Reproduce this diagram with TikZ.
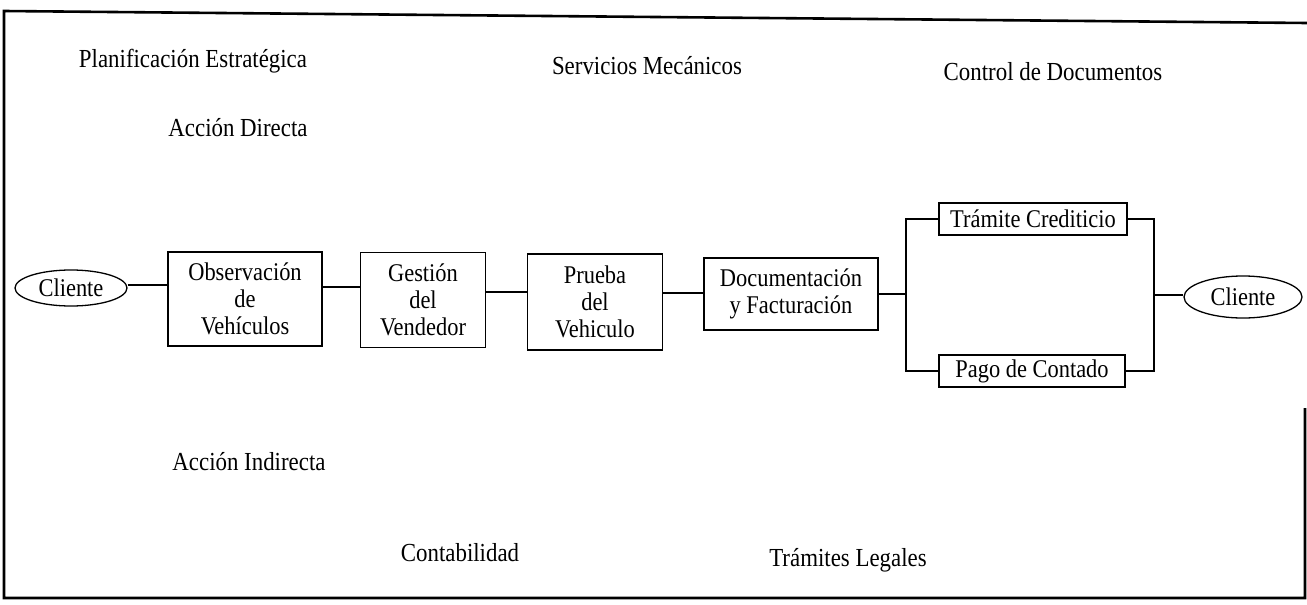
\documentclass[tikz,border=0pt]{standalone}
\usepackage{fontspec}
\setmainfont{Liberation Serif}[FakeStretch=0.88]
\usetikzlibrary{shapes.geometric}
\tikzset{
  caja/.style={draw,line width=1.3pt,inner sep=0pt,align=center,font=\fontsize{25.5}{27}\selectfont},
  cliente/.style={draw,ellipse,line width=1.3pt,inner sep=0pt,font=\fontsize{25.5}{27}\selectfont},
  rotulo/.style={font=\fontsize{26}{27}\selectfont},
  enlace/.style={line width=1.4pt}
}
\begin{document}
\begin{tikzpicture}[x=1pt,y=-1pt]
\useasboundingbox (0,0) rectangle (1307,605);
\draw [line width=2.6pt] (1305,408)-- (1305,598)-- (4,598)-- (4,11)-- (1307,23);
\node[rotulo] (plan) at (193,61) {Planificación Estratégica};
\node[rotulo] (serv) at (647,66) {Servicios Mecánicos};
\node[rotulo] (ctrl) at (1053,72) {Control de Documentos};
\node[rotulo] (dir) at (238,128) {Acción Directa};
\node[rotulo] (ind) at (249,462) {Acción Indirecta};
\node[rotulo] (cont) at (460,553) {Contabilidad};
\node[rotulo] (leg) at (848,560) {Trámites Legales};
\node[cliente,minimum width=112pt,minimum height=36pt] (cli1) at (71,288) {Cliente};
\node[caja,minimum width=154pt,minimum height=94pt] (obs) at (245,299) {Observación\\de\\Vehículos};
\node[caja,minimum width=125pt,minimum height=95pt] (gest) at (423,300) {Gestión\\del\\Vendedor};
\node[caja,minimum width=135pt,minimum height=96pt] (prue) at (595,302) {Prueba\\del\\Vehiculo};
\node[caja,minimum width=174pt,minimum height=72pt] (doc) at (791,294) {Documentación\\y Facturación};
\node[caja,minimum width=188pt,minimum height=32pt] (tram) at (1033,219) {Trámite Crediticio};
\node[caja,minimum width=186pt,minimum height=32pt] (pago) at (1032,371) {Pago de Contado};
\node[cliente,minimum width=118pt,minimum height=42pt] (cli2) at (1243,297) {Cliente};
\coordinate (jl) at (906,294);
\coordinate (jr) at (1154,295);
\draw [enlace] ([yshift=3pt]cli1.east)-- ([yshift=3pt]cli1.east -| obs.west);
\draw [enlace] ([yshift=12pt]obs.east)-- ([yshift=12pt]obs.east -| gest.west);
\draw [enlace] ([yshift=8pt]gest.east)-- ([yshift=8pt]gest.east -| prue.west);
\draw [enlace] ([yshift=9pt]prue.east)-- ([yshift=9pt]prue.east -| doc.west);
\draw [enlace] (doc.east)-- (jl);
\draw [enlace] (tram.west) -| (jl) |- (pago.west);
\draw [enlace] (tram.east) -| (jr) |- (pago.east);
\draw [enlace] (jr)-- (jr -| cli2.west);
\end{tikzpicture}
\end{document}
